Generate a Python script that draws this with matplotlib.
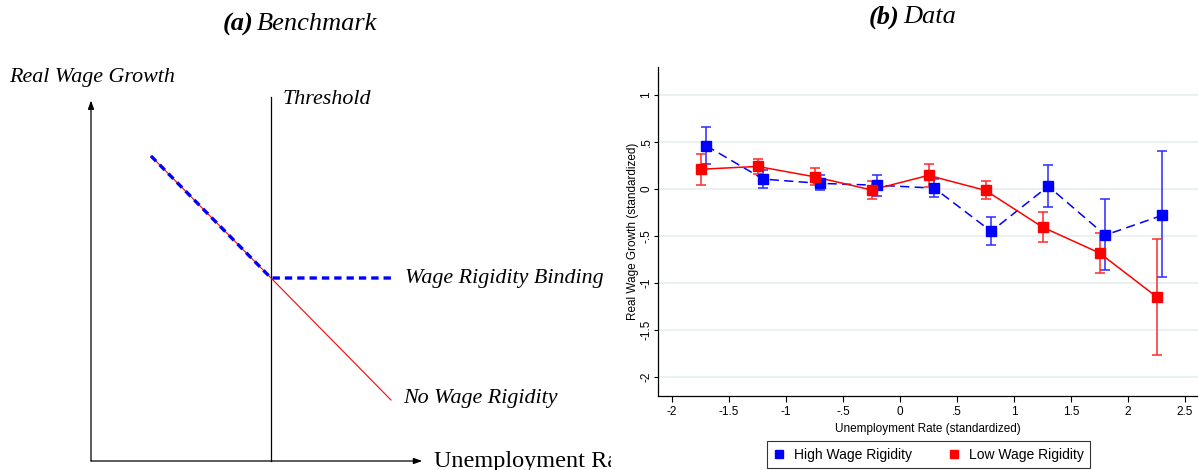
import matplotlib
matplotlib.use("Agg")
import matplotlib.pyplot as plt
import numpy as np

# ---------------- data ----------------
# Panel (b): binned scatter with 95% CI
high_x = [-1.70, -1.20, -0.70, -0.20, 0.30, 0.80, 1.30, 1.80, 2.30]
high_y = [0.46, 0.105, 0.06, 0.04, 0.01, -0.45, 0.03, -0.49, -0.28]
high_lo = [0.27, 0.01, -0.01, -0.07, -0.09, -0.59, -0.19, -0.86, -0.94]
high_hi = [0.66, 0.20, 0.145, 0.145, 0.11, -0.30, 0.26, -0.11, 0.40]

low_x = [-1.75, -1.25, -0.75, -0.25, 0.25, 0.75, 1.25, 1.75, 2.25]
low_y = [0.21, 0.24, 0.13, -0.01, 0.145, -0.015, -0.405, -0.68, -1.145]
low_lo = [0.04, 0.16, 0.04, -0.11, 0.02, -0.11, -0.56, -0.89, -1.76]
low_hi = [0.37, 0.32, 0.22, 0.08, 0.27, 0.085, -0.24, -0.47, -0.53]

x_ticks = [-2, -1.5, -1, -0.5, 0, 0.5, 1, 1.5, 2, 2.5]
x_ticklabels = ["-2", "-1.5", "-1", "-.5", "0", ".5", "1", "1.5", "2", "2.5"]
y_ticks = [1, 0.5, 0, -0.5, -1, -1.5, -2]
y_ticklabels = ["1", ".5", "0", "-.5", "-1", "-1.5", "-2"]

# Panel (a): stylised benchmark (abstract units)
threshold = 1.0
curve_x = [1/3, 1.0, 5/3]
no_rigid_y = [5/3, 1.0, 1/3]
rigid_y = [5/3, 1.0, 1.0]

W, H = 1198, 470
fig = plt.figure(figsize=(W / 100, H / 100), dpi=100)

serif = "Liberation Serif"
sans = "Liberation Sans"

# ---------------- panel (a) ----------------
axa = fig.add_axes([0, 0, 611 / W, 1])
axa.set_xlim(-91 / 180, (611 - 91) / 180)
axa.set_ylim(-9 / 183, 461 / 183)
axa.axis("off")

arrow_kw = dict(arrowstyle="-|>,head_length=0.5,head_width=0.18", color="black", lw=0.9,
                shrinkA=0, shrinkB=0)
axa.annotate("", xy=(0, 1.97), xytext=(0, 0), arrowprops=arrow_kw)
axa.annotate("", xy=(1.84, 0), xytext=(0, 0), arrowprops=arrow_kw)
axa.plot([threshold, threshold], [0, 1.99], color="black", lw=0.9)
axa.plot(curve_x, no_rigid_y, color="red", lw=0.8)
axa.plot(curve_x, rigid_y, color="blue", lw=2.4, ls=(0, (2.2, 1.5)))

fs_a = 15.8
axa.text(-0.456, 2.098, "Real Wage Growth", family=serif, style="italic",
         fontsize=fs_a, ha="left", va="center")
axa.text(1.067, 1.978, "Threshold", family=serif, style="italic",
         fontsize=fs_a, ha="left", va="center")
axa.text(1.744, 1.0, "Wage Rigidity Binding", family=serif, style="italic",
         fontsize=fs_a, ha="left", va="center")
axa.text(1.733, 0.34, "No Wage Rigidity", family=serif, style="italic",
         fontsize=fs_a, ha="left", va="center")
axa.text(1.906, 0.0, "Unemployment Rate", family=serif,
         fontsize=17.5, ha="left", va="center", clip_on=True)

# titles
fig.text(253 / W, 1 - 24 / H, "(a)", family=serif, style="italic", weight="bold",
         fontsize=19, ha="right", va="center")
fig.text(257 / W, 1 - 24 / H, "Benchmark", family=serif, style="italic",
         fontsize=19, ha="left", va="center")
fig.text(899 / W, 1 - 17 / H, "(b)", family=serif, style="italic", weight="bold",
         fontsize=19, ha="right", va="center")
fig.text(903 / W, 1 - 17 / H, "Data", family=serif, style="italic",
         fontsize=19, ha="left", va="center")

# ---------------- panel (b) ----------------
axb = fig.add_axes([658 / W, 1 - 396 / H, (W - 658) / W, (396 - 66.7) / H])
axb.set_xlim(-2.123, 2.614)
axb.set_ylim(-2.20, 1.30)
for s in ["top", "right"]:
    axb.spines[s].set_visible(False)
for s in ["left", "bottom"]:
    axb.spines[s].set_linewidth(0.9)

axb.set_yticks(y_ticks)
axb.set_yticklabels(y_ticklabels, rotation=90, va="center", family=sans, fontsize=8.5)
axb.set_xticks(x_ticks)
axb.set_xticklabels(x_ticklabels, family=sans, fontsize=8.5)
axb.tick_params(axis="y", direction="out", length=3, width=0.8, pad=1)
axb.tick_params(axis="x", direction="out", length=4, width=0.8, pad=3)
axb.grid(axis="y", color="#e8f0f2", lw=1.3)
axb.set_axisbelow(True)

hx = np.array(high_x); hy = np.array(high_y)
herr = [hy - np.array(high_lo), np.array(high_hi) - hy]
lx = np.array(low_x); ly = np.array(low_y)
lerr = [ly - np.array(low_lo), np.array(low_hi) - ly]

axb.errorbar(hx, hy, yerr=herr, fmt="none", ecolor="#2a2aff", elinewidth=1.1,
             capsize=3.5, capthick=1.1, zorder=2)
axb.plot(hx, hy, color="blue", lw=1.1, ls=(0, (6, 3.5)), zorder=2)
axb.errorbar(lx, ly, yerr=lerr, fmt="none", ecolor="#ff2a2a", elinewidth=1.1,
             capsize=3.5, capthick=1.1, zorder=3)
axb.plot(lx, ly, color="red", lw=1.1, zorder=3)
hm, = axb.plot(hx, hy, ls="none", marker="s", ms=7, color="blue", zorder=4,
               label="High Wage Rigidity")
lm, = axb.plot(lx, ly, ls="none", marker="s", ms=7, color="red", zorder=5,
               label="Low Wage Rigidity")

axb.set_ylabel("Real Wage Growth (standardized)", family=sans, fontsize=8.5, labelpad=1)
axb.set_xlabel("Unemployment Rate (standardized)", family=sans, fontsize=8.5, labelpad=4)

leg = fig.legend(handles=[hm, lm], loc="center", bbox_to_anchor=(928.5 / W, 1 - 454.5 / H),
                 ncol=2, frameon=True, fancybox=False, edgecolor="black",
                 prop={"family": sans, "size": 10}, markerscale=0.9,
                 handlelength=0.9, handletextpad=0.6, columnspacing=2.6,
                 borderpad=0.45)
leg.get_frame().set_linewidth(0.8)

fig.savefig("out.png", dpi=100)
